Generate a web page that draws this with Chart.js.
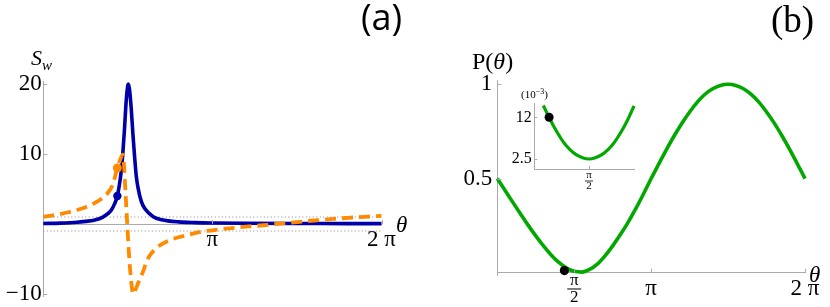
<!DOCTYPE html>
<html>
<head>
<meta charset="utf-8">
<script src="https://cdn.jsdelivr.net/npm/chart.js@4.4.0/dist/chart.umd.min.js"></script>
<style>
  html, body { margin: 0; padding: 0; background: #fff; }
  #wrap { position: relative; width: 830px; height: 307px; overflow: hidden; }
  #wrap canvas { position: absolute; left: 0; top: 0; }
  .lbl { position: absolute; white-space: nowrap; color: #000; font-family: "Liberation Serif", serif; line-height: 1; }
</style>
</head>
<body>
<div id="wrap">
  <canvas id="chartA" width="830" height="307"></canvas>
  <canvas id="chartB" width="830" height="307"></canvas>
  <canvas id="chartInset" width="830" height="307"></canvas>

  <div class="lbl" style="left:361px; top:-1px; font:36px/1 'Open Sans', sans-serif;">(a)</div>
  <div class="lbl" style="left:771px; top:1px; font:37px/1 'Liberation Serif', serif;">(b)</div>
  <div class="lbl" style="left:31px; top:47px; font:italic 22px/1 'Liberation Serif', serif;">S<span style="font-size:15px; position:relative; top:5px;">w</span></div>
  <div class="lbl" style="left:396px; top:213px; font:italic 23px/1 'Liberation Serif', serif;">θ</div>
  <div class="lbl" style="left:472px; top:49px; font:24px/1 'Liberation Serif', serif;">P(<i>θ</i>)</div>
  <div class="lbl" style="left:809px; top:263px; font:italic 23px/1 'Liberation Serif', serif;">θ</div>
  <div class="lbl" style="left:521px; top:89px; font:11px/1 'Liberation Serif', serif;">(10<span style="font-size:8px; position:relative; top:-4px;">−3</span>)</div>
</div>

<script>
// 横轴都用 θ/π 表示

// (a) S_w 两条曲线
const thetaBlue = [0, 0.1, 0.2, 0.25, 0.3, 0.35, 0.4, 0.42, 0.438, 0.45, 0.46, 0.47, 0.48, 0.49, 0.5, 0.503, 0.51, 0.52, 0.53, 0.54, 0.55, 0.56, 0.58, 0.6, 0.65, 0.7, 0.8, 0.9, 1.0, 1.2, 1.5, 1.8, 2.0];
const swBlue = [0.08, 0.13, 0.25, 0.38, 0.55, 0.95, 1.9, 2.8, 4.0, 5.6, 7.4, 10.0, 13.5, 17.5, 19.8, 20.0, 19.2, 16.5, 12.8, 9.6, 6.8, 5.2, 3.2, 2.2, 1.05, 0.62, 0.3, 0.2, 0.15, 0.1, 0.07, 0.06, 0.05];

const thetaOrange = [0, 0.05, 0.1, 0.15, 0.2, 0.25, 0.3, 0.35, 0.38, 0.41, 0.438, 0.455, 0.47, 0.477, 0.485, 0.495, 0.505, 0.515, 0.525, 0.533, 0.545, 0.56, 0.575, 0.59, 0.61, 0.63, 0.67, 0.75, 0.85, 0.95, 1.0, 1.1, 1.2, 1.3, 1.4, 1.5, 1.6, 1.7, 1.8, 1.9, 2.0];
const swOrange = [1.05, 1.2, 1.42, 1.68, 2.0, 2.4, 2.95, 3.7, 4.4, 5.6, 8.0, 9.2, 9.9, 8.6, 5.0, 0.6, -3.6, -7.0, -9.3, -10.0, -9.4, -8.5, -7.6, -6.8, -5.4, -4.5, -3.4, -2.3, -1.6, -1.05, -0.9, -0.62, -0.38, -0.18, 0.05, 0.28, 0.5, 0.7, 0.88, 1.03, 1.15];

const markThetaA = [0.438];
const markBlue = [4.0];
const markOrange = [8.0];
const refLevels = [1, -1];
const refTheta = [0, 2];

const swTicks = [-10, 10, 20];
const swTickLabels = ['−10', '10', '20'];
const thetaTicksA = [1, 2];
const thetaLabelsA = ['π', '2 π'];

// (b) P(θ)
const thetaGreen = [0, 0.05, 0.1, 0.15, 0.2, 0.25, 0.3, 0.35, 0.4, 0.45, 0.5, 0.55, 0.6, 0.65, 0.7, 0.75, 0.8, 0.85, 0.9, 0.95, 1.0, 1.05, 1.1, 1.15, 1.2, 1.25, 1.3, 1.35, 1.4, 1.45, 1.5, 1.55, 1.6, 1.65, 1.7, 1.75, 1.8, 1.85, 1.9, 1.95, 2.0];
const pGreen = [0.5, 0.438, 0.375, 0.313, 0.253, 0.196, 0.143, 0.095, 0.055, 0.025, 0.008, 0.004, 0.018, 0.046, 0.09, 0.143, 0.203, 0.268, 0.34, 0.418, 0.5, 0.578, 0.655, 0.727, 0.793, 0.853, 0.905, 0.947, 0.976, 0.994, 1.0, 0.994, 0.976, 0.946, 0.905, 0.853, 0.794, 0.727, 0.655, 0.578, 0.5];
const markThetaB = [0.436];
const markP = [0.012];

const pTicks = [0.5, 1];
const pTickLabels = ['0.5', '1'];
const thetaTicksB = [0.5, 1, 2];
const thetaLabelsB = [['π', '2'], 'π', '2 π'];

// 插图 (单位 10^-3)
const thetaInset = [0.429, 0.44, 0.45, 0.46, 0.47, 0.48, 0.49, 0.5, 0.51, 0.52, 0.53, 0.54, 0.55, 0.56, 0.57];
const pInset = [14.7, 11.4, 8.7, 6.4, 4.7, 3.5, 2.8, 2.5, 2.8, 3.5, 4.7, 6.4, 8.7, 11.4, 14.6];
const markThetaInset = [0.438];
const markPInset = [12];
const insetYTicks = [2.5, 12];
const insetYLabels = ['2.5', '12'];
const insetXTicks = [0.5];
const insetXLabels = [['π', '2']];

const W = 830, H = 307;
const BLUE = '#0000aa', ORANGE = '#ff8a00', GREEN = '#00a800', AXIS = '#aaaaaa';
const serif = "'Liberation Serif', 'Times New Roman', serif";

function pts(xs, ys) {
    return xs.map((x, i) => ({ x: x, y: ys[i] }));
}

// 轴的尺寸写死，绘图区位置就完全由 padding 决定
function fixSize(n) {
    return scale => {
        if (scale.isHorizontal()) scale.height = n; else scale.width = n;
        scale.paddingLeft = scale.paddingRight = scale.paddingTop = scale.paddingBottom = 0;
    };
}

// l,t,r,b 是绘图区边界；yw 为 y 轴宽度，xh 为 x 轴高度
function area(l, t, r, b, yw, xh) {
    return { left: l - yw, top: t, right: W - r, bottom: H - b - xh };
}

// 内侧刻度线 + 分数线
const innerTicks = {
    id: 'innerTicks',
    afterDraw(chart, args, opts) {
        const ctx = chart.ctx;
        const xs = chart.scales.x, ys = chart.scales.y;
        const x0 = ys.right;
        const pos = xs.options.position;
        const y0 = typeof pos === 'object' ? ys.getPixelForValue(pos.y) : xs.top;
        ctx.save();
        ctx.strokeStyle = AXIS;
        ctx.lineWidth = 1;
        ctx.beginPath();
        xs.ticks.forEach(t => {
            const px = Math.round(xs.getPixelForValue(t.value)) + 0.5;
            ctx.moveTo(px, y0);
            ctx.lineTo(px, y0 - opts.len);
        });
        ys.ticks.forEach(t => {
            const py = Math.round(ys.getPixelForValue(t.value)) + 0.5;
            ctx.moveTo(x0, py);
            ctx.lineTo(x0 + opts.len, py);
        });
        ctx.stroke();
        // 分数 π/2 的横线
        ctx.strokeStyle = '#000';
        ctx.lineWidth = opts.frac.width;
        xs.ticks.forEach(t => {
            if (!Array.isArray(t.label)) return;
            const px = xs.getPixelForValue(t.value);
            const py = y0 + opts.frac.pad + opts.frac.lh;
            ctx.beginPath();
            ctx.moveTo(px - opts.frac.half, py);
            ctx.lineTo(px + opts.frac.half, py);
            ctx.stroke();
        });
        ctx.restore();
    }
};

function baseOptions(pad, xr, yr, tickOpts) {
    return {
        responsive: false,
        animation: false,
        events: [],
        layout: { padding: pad, autoPadding: false },
        plugins: { legend: { display: false }, tooltip: { enabled: false }, innerTicks: tickOpts },
        elements: { point: { radius: 0 } },
        scales: {
            x: Object.assign({ type: 'linear', min: xr[0], max: xr[1] }, xr[2]),
            y: Object.assign({ type: 'linear', min: yr[0], max: yr[1] }, yr[2])
        }
    };
}

function axisCfg(ticks, labels, font, padding, position, size) {
    return {
        position: position,
        afterBuildTicks: s => { s.ticks = ticks.map(v => ({ value: v })); },
        afterFit: fixSize(size),
        grid: { display: false, drawTicks: false },
        border: { display: true, color: AXIS, width: 1 },
        ticks: {
            autoSkip: false, maxRotation: 0, minRotation: 0,
            padding: padding, color: '#000',
            font: font,
            callback: (v, i) => labels[i]
        }
    };
}

// ---------- (a) ----------
new Chart(document.getElementById('chartA'), {
    type: 'line',
    data: {
        datasets: [
            { data: pts(markThetaA, markOrange), showLine: false, pointRadius: 4.5, pointBackgroundColor: ORANGE, pointBorderWidth: 0, clip: false },
            { data: pts(markThetaA, markBlue), showLine: false, pointRadius: 4.2, pointBackgroundColor: BLUE, pointBorderWidth: 0, clip: false },
            { data: pts(thetaOrange, swOrange), borderColor: ORANGE, borderWidth: 3.8, borderDash: [11, 6], cubicInterpolationMode: 'monotone', borderJoinStyle: 'round', clip: false },
            { data: pts(thetaBlue, swBlue), borderColor: BLUE, borderWidth: 3.6, cubicInterpolationMode: 'monotone', borderJoinStyle: 'round', clip: false },
            { data: pts(refTheta, [refLevels[0], refLevels[0]]), borderColor: '#888', borderWidth: 1, borderDash: [1, 2.5] },
            { data: pts(refTheta, [refLevels[1], refLevels[1]]), borderColor: '#888', borderWidth: 1, borderDash: [1, 2.5] }
        ]
    },
    options: baseOptions(
        area(43.3, 81.9, 381.5, 296.8, 43, 0),
        [0, 2, axisCfg(thetaTicksA, thetaLabelsA, { family: serif, size: 23, lineHeight: 1.4 }, 0, { y: 0 }, 0)],
        [-10.4, 20.3, axisCfg(swTicks, swTickLabels, { family: serif, size: 23, lineHeight: 1.2 }, 1.5, 'left', 43)],
        { len: 4, frac: { pad: 0, lh: 16, half: 7, width: 1 } }
    ),
    plugins: [innerTicks]
});

// ---------- (b) ----------
new Chart(document.getElementById('chartB'), {
    type: 'line',
    data: {
        datasets: [
            { data: pts(markThetaB, markP), showLine: false, pointRadius: 4.6, pointBackgroundColor: '#000', pointBorderWidth: 0, clip: false },
            { data: pts(thetaGreen, pGreen), borderColor: GREEN, borderWidth: 3.6, cubicInterpolationMode: 'monotone', clip: false }
        ]
    },
    options: baseOptions(
        area(497.3, 80.5, 805.8, 275.1, 60, 0),
        [0, 2.005, axisCfg(thetaTicksB, thetaLabelsB,
            ctx => ctx.index === 0 ? { family: serif, size: 17, lineHeight: 0.95 } : { family: serif, size: 23, lineHeight: 1.4 },
            0, { y: 0 }, 0)],
        [-0.012, 1.02, axisCfg(pTicks, pTickLabels, { family: serif, size: 23, lineHeight: 1.2 }, 5, 'left', 60)],
        { len: 4, frac: { pad: 0, lh: 16.15, half: 7, width: 1 } }
    ),
    plugins: [innerTicks]
});

// ---------- 插图 ----------
new Chart(document.getElementById('chartInset'), {
    type: 'line',
    data: {
        datasets: [
            { data: pts(markThetaInset, markPInset), showLine: false, pointRadius: 4.5, pointBackgroundColor: '#000', pointBorderWidth: 0, clip: false },
            { data: pts(thetaInset, pInset), borderColor: GREEN, borderWidth: 3.2, cubicInterpolationMode: 'monotone', clip: false }
        ]
    },
    options: baseOptions(
        area(534.3, 103.3, 634.5, 169, 30, 25),
        [0.415, 0.5707, axisCfg(insetXTicks, insetXLabels, { family: serif, size: 11, lineHeight: 1.0 }, 1, 'bottom', 25)],
        [0.222, 15.19, axisCfg(insetYTicks, insetYLabels, { family: serif, size: 16, lineHeight: 1.2 }, 2.5, 'left', 30)],
        { len: 3, frac: { pad: 1, lh: 11, half: 4, width: 0.8 } }
    ),
    plugins: [innerTicks]
});
</script>
</body>
</html>
